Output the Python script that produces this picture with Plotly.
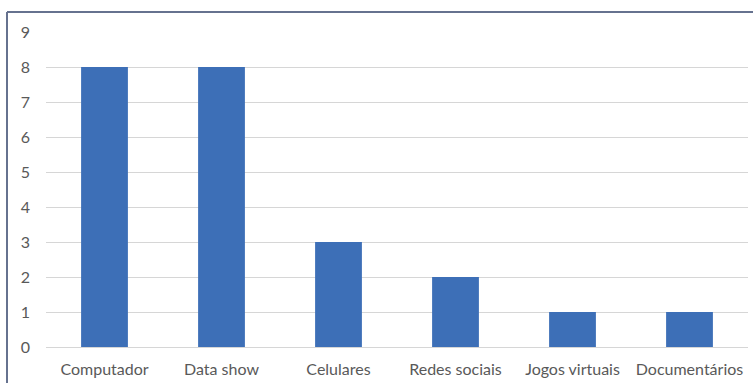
import plotly.graph_objects as go

categories = ["Computador", "Data show", "Celulares", "Redes sociais", "Jogos virtuais", "Documentários"]
values = [8, 8, 3, 2, 1, 1]
y_ticks = [0, 1, 2, 3, 4, 5, 6, 7, 8, 9]

W, H = 753, 383
ml, mr, mt, mb = 46, 5, 32, 36
pw = W - ml - mr
ph = H - mt - mb

fig = go.Figure(go.Bar(x=categories, y=values, marker_color="#3d6fb7", marker_line_width=0))

fig.update_layout(
    width=W, height=H,
    margin=dict(l=ml, r=mr, t=mt, b=mb),
    paper_bgcolor="white", plot_bgcolor="white",
    bargap=0.6,
    font=dict(family="Lato, 'Open Sans', sans-serif", size=16, color="#595959"),
    showlegend=False,
    xaxis=dict(showgrid=False, showline=False, ticks="", ticklabelstandoff=11),
    yaxis=dict(range=[0, 9], tickvals=y_ticks, showgrid=True, gridcolor="#d6d6d6",
               gridwidth=1, zeroline=True, zerolinecolor="#d6d6d6", zerolinewidth=1,
               showline=False, ticks="", ticklabelstandoff=15),
)

# frame border of the original figure (left and top edges)
bx = (7 - ml) / pw
by = (H - mb - 12) / ph
fig.add_shape(type="line", xref="paper", yref="paper", x0=bx, x1=bx, y0=by, y1=-0.3,
              line=dict(color="#66728f", width=2))
fig.add_shape(type="line", xref="paper", yref="paper", x0=bx, x1=1.2, y0=by, y1=by,
              line=dict(color="#66728f", width=2))

fig.write_html("out.html")
